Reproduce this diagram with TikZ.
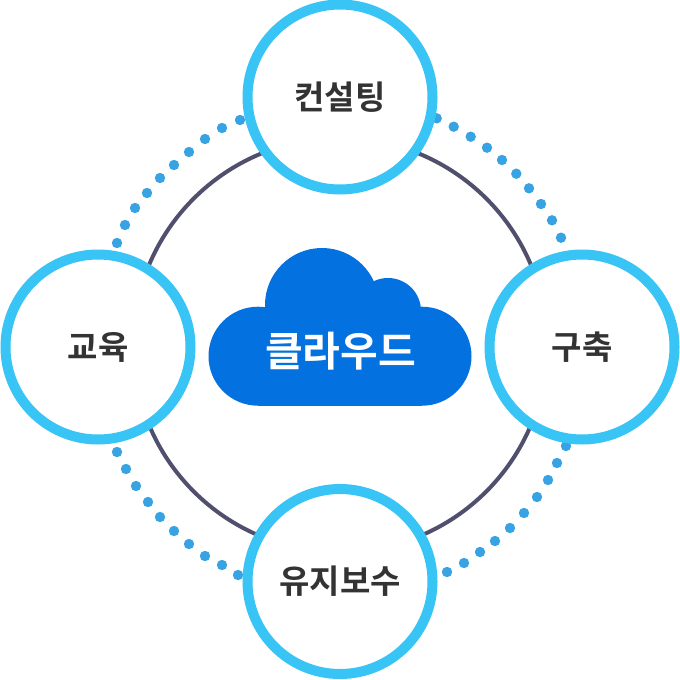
\documentclass[tikz,border=0pt]{standalone}
\usepackage{fontspec}
\newfontfamily\krfont{Noto Sans CJK KR}[BoldFont={Noto Sans CJK KR Bold}]
\definecolor{ringblue}{HTML}{38C4F5}
\definecolor{ringdark}{HTML}{50506E}
\definecolor{dotblue}{HTML}{38A3E3}
\definecolor{cloudblue}{HTML}{0371DF}
\definecolor{labeldark}{HTML}{333333}
\tikzset{
  ringnode/.style={circle,draw=ringblue,fill=white,line width=10pt,minimum size=185pt,inner sep=0pt,
    font=\krfont\fontsize{33pt}{33pt}\selectfont\bfseries,text=labeldark},
  dotmark/.style={fill=dotblue,draw=none},
}
\begin{document}
\begin{tikzpicture}[x=1pt,y=-1pt]
\useasboundingbox (0,0) rectangle (680,680);
\fill[white] (0,0) rectangle (680,680);
\draw[ringdark,line width=4pt] (340,345) circle[radius=207];
\foreach \px/\py in {436.7/118.3,453.7/126.7,470.7/136.7,487/147.7,502/160,516.3/173.7,529/188.3,541/204,552/220.3,561/237.7,
 240/120,222/128,205/139,189/152,174/165,160/178,147/193,135/208,125/225,117/243,
 117/452,126/469,136/486,148/502,160/517,174/531,189/544,205/556,222/565,238/575,
 566/446,557/463,548/480,537/497,524/513,510/528,495/541,480/552,464/563,447/572}
  \fill[dotmark] (\px,\py) circle[radius=5.2];
\node[ringnode] (top) at (340,97) {컨설팅};
\node[ringnode] (right) at (582,347) {구축};
\node[ringnode] (bottom) at (340,581.5) {유지보수};
\node[ringnode] (left) at (98,347) {교육};
\fill[cloudblue] (258,356.2) circle[radius=49.5];
\fill[cloudblue] (422,356.2) circle[radius=49.5];
\fill[cloudblue] (258,306.7) rectangle (422,405.7);
\fill[cloudblue] (322,305) circle[radius=57];
\fill[cloudblue] (388,311) circle[radius=33];
\node[font=\krfont\fontsize{41pt}{41pt}\selectfont\bfseries,text=white,inner sep=0pt] (cloud) at (340.5,351) {클라우드};
\end{tikzpicture}
\end{document}
